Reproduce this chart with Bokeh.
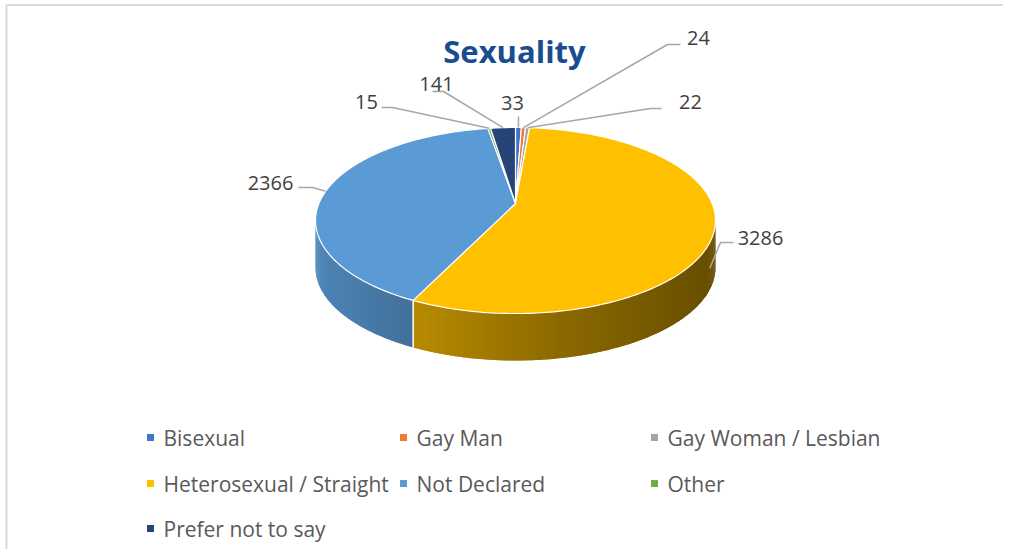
import numpy as np
from bokeh.plotting import figure
from bokeh.models import Range1d
from bokeh.embed import file_html
from bokeh.resources import INLINE
from bokeh.core.properties import value

# ---------------- data ----------------
title = "Sexuality"
categories = ["Bisexual", "Gay Man", "Gay Woman / Lesbian", "Heterosexual / Straight",
              "Not Declared", "Other", "Prefer not to say"]
counts = [33, 24, 22, 3286, 2366, 15, 141]
colors = ["#4472C4", "#ED7D31", "#A5A5A5", "#FFC000", "#5B9BD5", "#70AD47", "#264478"]

# ---------------- layout ----------------
W, H = 1003, 549
FONT = "Open Sans"
p = figure(width=W, height=H, x_range=Range1d(0, W), y_range=Range1d(H, 0),
           output_backend="svg", toolbar_location=None, min_border=0,
           x_axis_type=None, y_axis_type=None)
p.grid.visible = False
p.outline_line_color = None
p.background_fill_color = "white"
p.border_fill_color = "white"

# chart frame (top and left edges visible in the window)
p.line([6, 6, W + 20], [H + 20, 4.5, 4.5], line_color="#D9D9D9", line_width=2)

# perspective projection of the pie disc (tilted view)
cx, k = 515.0, 196.6
PA, PB, PC = 52.8, 203.0, -0.1828
depth = 47.0
apex = (cx, PB)


def ept(theta):
    t = np.radians(theta)
    u, v = np.sin(t), -np.cos(t)
    d = 1.0 + PC * v
    return cx + k * u / d, (PA * v + PB) / d


vals = np.array(counts, dtype=float)
total = vals.sum()
ends = np.cumsum(vals) / total * 360.0
starts = np.concatenate([[0.0], ends[:-1]])
mids = (starts + ends) / 2


def shade(hexc, f):
    r, g, bb = int(hexc[1:3], 16), int(hexc[3:5], 16), int(hexc[5:7], 16)
    return "#%02x%02x%02x" % (int(r * f), int(g * f), int(bb * f))


# shading factor across the side (by screen x)
sx = [300, 320, 415, 560, 720]
sf = [0.88, 0.86, 0.72, 0.55, 0.40]

# front half of the rim: between the two widest points
side_lo, side_hi = 90.0 + 10.5, 270.0 - 10.5
side_lo = np.degrees(np.arccos(PC)) if False else 180.0 - np.degrees(np.arccos(-PC))
side_hi = 360.0 - side_lo

# ---------------- side faces ----------------
side_xs, side_ys, side_cols = [], [], []
for s, e, c in zip(starts, ends, colors):
    lo, hi = max(s, side_lo), min(e, side_hi)
    if hi <= lo:
        continue
    n = max(2, int((hi - lo) / 0.75))
    th = np.linspace(lo, hi, n + 1)
    step = th[1] - th[0]
    for t1, t2 in zip(th[:-1], th[1:]):
        t2e = min(t2 + step * 0.8, hi)
        x1, y1 = ept(t1)
        x2, y2 = ept(t2e)
        xm, _ = ept((t1 + t2) / 2)
        side_xs.append([x1, x2, x2, x1])
        side_ys.append([y1, y2, y2 + depth, y1 + depth])
        f = float(np.interp(xm, sx, sf))
        side_cols.append(shade(c, f))
p.patches(side_xs, side_ys, fill_color=side_cols, line_color=None)

# slice separators visible on the side
for s in list(starts):
    if side_lo < s < side_hi:
        x0, y0 = ept(s)
        p.segment(x0, y0, x0, y0 + depth, line_color="white", line_width=1.5)

# ---------------- top face ----------------
top_xs, top_ys = [], []
for s, e in zip(starts, ends):
    th = np.linspace(s, e, max(3, int((e - s) / 1.0) + 2))
    xs, ys = ept(th)
    top_xs.append([apex[0]] + list(xs))
    top_ys.append([apex[1]] + list(ys))
p.patches(top_xs, top_ys, fill_color=colors, line_color="white", line_width=1.2)

# ---------------- data labels with leaders ----------------
label_pos = [(512, 102), (698, 37), (690, 101), (760, 237), (270, 182), (366, 101), (436, 83)]
elbows = [[(518, 116)],
          [(667, 44), (680, 44)],
          [(650, 108), (661, 108)],
          [(720, 242), (733, 242)],
          [(312, 187), (298, 187)],
          [(392, 107), (381, 107)],
          [(443, 91), (432, 91)]]
for i, m in enumerate(mids):
    ax, ay = ept(m)
    if side_lo < m < side_hi:
        ax -= 5
        ay += depth * 0.85
    lx = [ax] + [q[0] for q in elbows[i]]
    ly = [ay] + [q[1] for q in elbows[i]]
    p.line(lx, ly, line_color="#A6A6A6", line_width=1.5)

p.text([q[0] for q in label_pos], [q[1] for q in label_pos], text=[str(c) for c in counts],
       text_font=value(FONT), text_font_size="20px", text_color="#404040",
       text_align="center", text_baseline="middle")

# ---------------- title ----------------
p.text([514], [50], text=[title], text_font=value(FONT), text_font_style="bold",
       text_font_size="31px", text_color="#1A4D8F", text_align="center", text_baseline="middle")

# ---------------- legend ----------------
col_x = [150, 403, 654]
row_y = [437, 483, 528]
mx = [col_x[i % 3] for i in range(len(categories))]
my = [row_y[i // 3] for i in range(len(categories))]
p.rect(mx, my, width=7, height=7, fill_color=colors, line_color=None)
p.text([x + 13 for x in mx], my, text=categories, text_font=value(FONT), text_font_size="21px",
       text_color="#595959", text_align="left", text_baseline="middle")

open("out.html", "w").write(file_html(p, INLINE))
